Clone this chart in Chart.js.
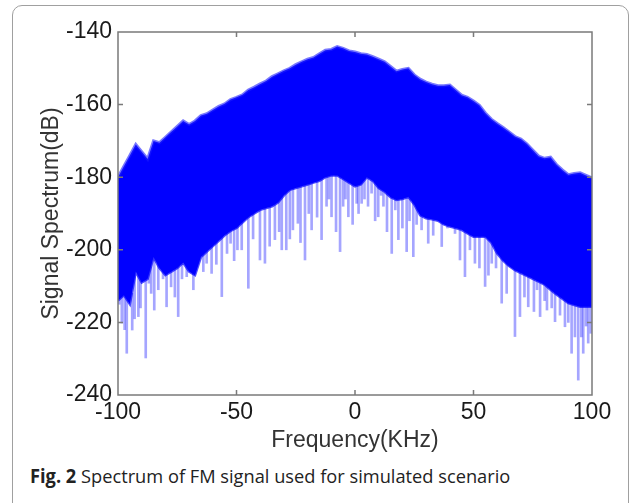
<!DOCTYPE html>
<html>
<head>
<meta charset="utf-8">
<script src="https://cdn.jsdelivr.net/npm/chart.js@4.4.1/dist/chart.umd.min.js"></script>
<style>
  html, body { margin: 0; padding: 0; background: #fff; }
  body { width: 637px; height: 503px; position: relative; overflow: hidden; }
  #frame {
    position: absolute; left: 12px; top: 5px; width: 617px; height: 530px;
    border: 1px solid #a0a0a0; border-radius: 10px; box-sizing: border-box;
  }
  #wrap { position: absolute; left: 0; top: 0; width: 637px; height: 460px; }
  #caption {
    position: absolute; left: 30px; top: 463px; white-space: nowrap;
    font-family: "Open Sans", sans-serif; font-size: 19px; color: #222;
    transform: scaleX(0.96); transform-origin: left top;
  }
  #caption b { font-weight: 700; }
</style>
</head>
<body>
<div id="frame"></div>
<div id="wrap"><canvas id="chart" width="637" height="460"></canvas></div>
<div id="caption"><b>Fig. 2</b> Spectrum of FM signal used for simulated scenario</div>
<script>
// frequency grid (kHz) used for the envelopes
const freqs = [
  -100, -97.5, -95, -92.5, -90, -87.5, -85, -82.5, -80, -77.5,
  -75, -72.5, -70, -67.5, -65, -62.5, -60, -57.5, -55, -52.5,
  -50, -47.5, -45, -42.5, -40, -37.5, -35, -32.5, -30, -27.5,
  -25, -22.5, -20, -17.5, -15, -12.5, -10, -7.5, -5, -2.5,
  0, 2.5, 5, 7.5, 10, 12.5, 15, 17.5, 20, 22.5,
  25, 27.5, 30, 32.5, 35, 37.5, 40, 42.5, 45, 47.5,
  50, 52.5, 55, 57.5, 60, 62.5, 65, 67.5, 70, 72.5,
  75, 77.5, 80, 82.5, 85, 87.5, 90, 92.5, 95, 97.5, 100
];

// upper edge of the dense spectrum (dB)
const upperDb = [
  -180, -177, -174, -171, -173, -175, -170, -170.5, -169, -167.5,
  -166, -164.5, -165.5, -164.5, -163, -162.5, -161.5, -160.5, -159.8, -158.6,
  -158, -157.3, -156, -155.2, -154.3, -153.5, -152.3, -151.5, -150.7, -150,
  -149, -148.2, -147.5, -147, -146, -145, -144.8, -144, -144.5, -145.2,
  -145.5, -146, -146.2, -146.8, -147.5, -148.2, -149.5, -150.8, -150.3, -150,
  -151.8, -153, -153.8, -154.4, -154.8, -154.8, -154.6, -156, -157.4, -158,
  -159, -160.2, -162.3, -164, -165.2, -166.3, -167.5, -168.8, -169.5, -170.8,
  -172.5, -174.2, -174.8, -174.5, -176.5, -178, -179.3, -179, -178.8, -179.5, -180.2
];

// lower edge of the dense spectrum (dB)
const lowerDb = [
  -214, -212.5, -215, -206, -209, -208, -202, -205, -207, -206,
  -205, -203.5, -206, -207, -202, -200.5, -199, -197.5, -196, -194.8,
  -194, -192.5, -191, -190, -189, -188.5, -188, -187, -185, -183.5,
  -183, -182.5, -182, -181.5, -181, -180, -179.5, -179.5, -180.5, -181.5,
  -182.5, -182, -180, -181, -183, -184, -185.5, -186.3, -186, -185.4,
  -187.5, -190.5, -191.3, -191.6, -192, -193, -193.6, -194, -194.5, -195.5,
  -196.4, -196.4, -196.4, -198, -201, -203, -204.5, -205.6, -206.4, -207.2,
  -208, -208.8, -209.6, -211, -212.3, -213.5, -214.7, -215.2, -215.7, -215.7, -215.7
];

// isolated downward spikes below the dense part (light blue)
const spikeFreq = [
  -99.5, -98.4, -97.2, -96.3, -94, -93, -91.4, -90.5, -88.3, -87,
  -86, -84.7, -83, -81, -79.5, -77.6, -76, -74.6, -73, -71,
  -68.2, -64, -62.6, -60.5, -58.5, -56.2, -54, -52.5, -51, -49.6,
  -47.8, -45, -43, -40.1, -38, -36, -33.8, -32, -30.9, -29,
  -27.5, -26.2, -24.1, -23, -21.1, -19.5, -18.3, -16, -14.1, -12,
  -11, -9.9, -8, -6.3, -5, -4, -2.8, -1, 0.7, 1.5,
  2.8, 4, 5.5, 7, 8.5, 9.8, 11, 12, 13.5, 15.5,
  17, 18.3, 20, 21.8, 23, 24.6, 26, 28.1, 30.9, 33,
  36.6, 39, 42.2, 44.3, 46.4, 48.5, 50.6, 52.5, 54.9, 56.3,
  57.7, 59.5, 61.9, 64, 67.5, 69.6, 71.5, 73.1, 75.5, 76.8,
  78.1, 80, 81, 83, 84.4, 86.5, 88.6, 90, 91.4, 92.8,
  94.2, 95.5, 96.3, 97.5, 98.4, 99.5
];
const spikeLow = [
  -215, -220.2, -222, -228.5, -222.1, -219, -218.4, -216, -229.8, -209.2,
  -212, -216.6, -211, -208, -215.7, -210.2, -213, -218.4, -208, -207.4,
  -211, -206, -203.7, -206.5, -204, -212.9, -201, -198.2, -203, -200,
  -200, -210.6, -197, -202.8, -203.7, -199, -197.2, -195, -200, -200,
  -197, -194.5, -192.7, -198, -202.8, -190, -194.5, -191, -197.2, -188,
  -186, -190.9, -195, -200.5, -188, -186, -190.9, -193, -187.2, -190,
  -187.2, -186, -188, -184.4, -192, -190.9, -185, -188, -195, -201,
  -189, -197.2, -194, -200.5, -192, -201.9, -193, -194.5, -198.2, -196,
  -199.1, -194, -195.5, -202.8, -207.4, -200, -203.7, -205, -210.1, -207,
  -203.7, -205, -214.7, -212, -223.9, -218.4, -213, -215.7, -217, -211,
  -218.4, -214, -216.6, -216, -219.8, -218, -221.2, -220, -228.5, -224,
  -235.9, -224, -228.5, -221, -225.7, -223
];
const spikeHigh = [
  -211, -210, -210, -212, -212, -204, -200, -205, -205, -200,
  -199, -183, -202, -204, -205, -204, -203, -203, -201, -202,
  -205, -199, -198, -197, -195, -194, -194, -193, -192, -192,
  -191, -190, -189, -188, -188, -187, -186, -185, -184, -184,
  -182, -182, -181, -181, -181, -180, -180, -180, -179, -178,
  -178, -178, -177, -177, -178, -178, -179, -179, -180, -180,
  -180, -179, -178, -178, -180, -181, -182, -182, -183, -183,
  -184, -184, -184, -184, -184, -184, -185, -187, -189, -190,
  -191, -192, -192, -192, -193, -193, -194, -194, -194, -194,
  -195, -196, -199, -202, -203, -204, -205, -206, -206, -207,
  -207, -208, -209, -209, -210, -211, -212, -213, -213, -213,
  -213, -213, -213, -213, -213, -213
];

const xTickVals = [-100, -50, 0, 50, 100];
const yTickVals = [-140, -160, -180, -200, -220, -240];

const axisFont = { family: '"Liberation Sans", Arial, sans-serif', size: 23 };

// 枠線と内向きの目盛りを描く
const boxPlugin = {
  id: 'box',
  afterDraw(chart) {
    const { ctx, chartArea: a, scales } = chart;
    ctx.save();
    ctx.strokeStyle = '#7a7a7a';
    ctx.lineWidth = 1.5;
    ctx.strokeRect(a.left, a.top, a.right - a.left, a.bottom - a.top);
    ctx.beginPath();
    xTickVals.slice(1, -1).forEach(v => {
      const px = scales.x.getPixelForValue(v);
      ctx.moveTo(px, a.bottom); ctx.lineTo(px, a.bottom - 5);
      ctx.moveTo(px, a.top); ctx.lineTo(px, a.top + 5);
    });
    yTickVals.slice(1, -1).forEach(v => {
      const py = scales.y.getPixelForValue(v);
      ctx.moveTo(a.left, py); ctx.lineTo(a.left + 5, py);
      ctx.moveTo(a.right, py); ctx.lineTo(a.right - 5, py);
    });
    ctx.stroke();
    ctx.restore();
  }
};

new Chart(document.getElementById('chart'), {
  type: 'line',
  data: {
    datasets: [
      {
        label: 'upper',
        data: freqs.map((f, i) => ({ x: f, y: upperDb[i] })),
        borderColor: 'rgba(30,30,255,0.6)',
        borderWidth: 3,
        backgroundColor: '#0000ff',
        fill: '+1',
        pointRadius: 0,
        tension: 0,
        order: 1
      },
      {
        label: 'lower',
        data: freqs.map((f, i) => ({ x: f, y: lowerDb[i] })),
        borderColor: 'rgba(0,0,255,0.7)',
        borderWidth: 2.5,
        fill: false,
        pointRadius: 0,
        tension: 0,
        order: 1
      },
      {
        type: 'bar',
        label: 'spikes',
        data: spikeFreq.map((f, i) => ({ x: f, y: [spikeLow[i], spikeHigh[i]] })),
        backgroundColor: 'rgba(40,40,255,0.42)',
        borderWidth: 0,
        barThickness: 2,
        order: 2
      }
    ]
  },
  options: {
    responsive: false,
    animation: false,
    events: [],
    layout: { padding: { left: 0, top: 32, right: 45, bottom: 0 } },
    plugins: { legend: { display: false }, tooltip: { enabled: false } },
    scales: {
      x: {
        type: 'linear',
        min: -100, max: 100,
        offset: false,
        afterFit: s => { s.height = 65; },
        afterBuildTicks: s => { s.ticks = xTickVals.map(v => ({ value: v })); },
        grid: { display: false, drawTicks: false },
        border: { display: false },
        ticks: { font: axisFont, color: '#1a1a1a', padding: 4, maxRotation: 0, autoSkip: false },
        title: {
          display: true, text: 'Frequency(KHz)', font: axisFont, color: '#333',
          padding: { top: 0, bottom: 6 }
        }
      },
      y: {
        type: 'linear',
        min: -240, max: -140,
        afterFit: s => { s.width = 118; },
        afterBuildTicks: s => { s.ticks = yTickVals.map(v => ({ value: v })); },
        grid: { display: false, drawTicks: false },
        border: { display: false },
        ticks: { font: axisFont, color: '#1a1a1a', padding: 6 },
        title: {
          display: true, text: 'Signal Spectrum(dB)', font: axisFont, color: '#333',
          padding: { top: 38, bottom: 0 }
        }
      }
    }
  },
  plugins: [boxPlugin]
});
</script>
</body>
</html>
